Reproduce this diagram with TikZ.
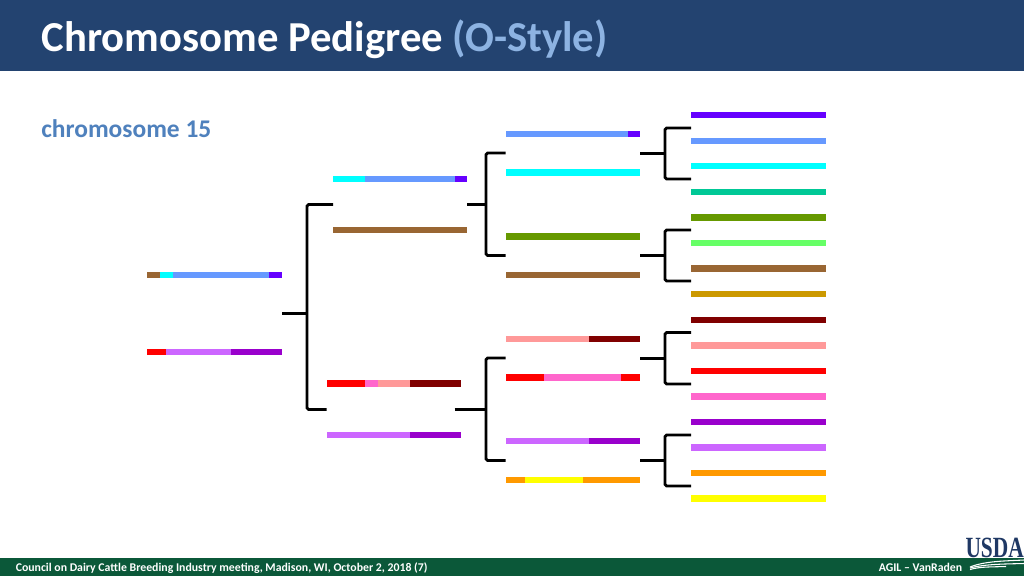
\documentclass[tikz,border=0pt]{standalone}
\usepackage{fontspec}
\setmainfont{Carlito}
\definecolor{hdr}{HTML}{234370}
\definecolor{ftr}{HTML}{0B5839}
\definecolor{ttl}{HTML}{8DB3E2}
\definecolor{sub}{HTML}{4F81BD}
\definecolor{usda}{HTML}{1F3864}
\definecolor{cPur}{HTML}{6600FF}
\definecolor{cBlu}{HTML}{6699FF}
\definecolor{cCya}{HTML}{00FFFF}
\definecolor{cTea}{HTML}{00C896}
\definecolor{cOli}{HTML}{669900}
\definecolor{cLim}{HTML}{66FF66}
\definecolor{cBro}{HTML}{996633}
\definecolor{cGol}{HTML}{CC9900}
\definecolor{cMar}{HTML}{800000}
\definecolor{cSal}{HTML}{FF9999}
\definecolor{cRed}{HTML}{FF0000}
\definecolor{cPin}{HTML}{FF66CC}
\definecolor{cVio}{HTML}{9900CC}
\definecolor{cLil}{HTML}{CC66FF}
\definecolor{cOra}{HTML}{FF9900}
\definecolor{cYel}{HTML}{FFFF00}
\tikzset{
  px/.style={x=0.75pt,y=-0.75pt},
  seg/.style={inner sep=0pt,outer sep=0pt,draw=none,minimum height=5.1pt},
  bracket/.style={black,line width=2.2pt,rounded corners=1.2pt,line cap=butt},
  stub/.style={black,line width=2.2pt,line cap=butt},
}
% name, x1, x2, y, colour
\newcommand{\barseg}[5]{%
  \pgfmathsetmacro{\segw}{(#3-#2)*0.75}%
  \node[seg,fill=#5,minimum width=\segw pt] (#1) at ({(#2+#3)/2},#4) {};}
% prefix, stub x, joint x, end x top, end x bottom, ytop, ymid, ybot
\newcommand{\brk}[8]{%
  \coordinate (#1s) at (#2,#7);
  \coordinate (#1j) at (#3,#7);
  \coordinate (#1t) at (#4,#6);
  \coordinate (#1b) at (#5,#8);
  \draw[bracket] (#1t) -| (#1j) |- (#1b);
  \draw[stub] (#1s) -- (#1j);}
\begin{document}
\begin{tikzpicture}[px]
\useasboundingbox (0,0) rectangle (1024,576);
\fill[white] (0,0) rectangle (1024,576);
\fill[hdr] (0,0) rectangle (1024,71);
\fill[ftr] (0,558) rectangle (1024,576);
\node[anchor=base west,inner sep=0pt,text=white,font=\bfseries\fontsize{32pt}{34pt}\selectfont] (title) at (41.5,51) {Chromosome Pedigree \textcolor{ttl}{(O-Style)}};
\node[anchor=base west,inner sep=0pt,text=sub,font=\bfseries\fontsize{19.1pt}{21pt}\selectfont] (chr) at (41,137.5) {chromosome 15};
\node[anchor=base west,inner sep=0pt,text=white,font=\bfseries\fontsize{8.85pt}{10pt}\selectfont] (foot) at (15.5,571.5) {Council on Dairy Cattle Breeding Industry meeting, Madison, WI, October 2, 2018 (7)};
\node[anchor=base east,inner sep=0pt,text=white,font=\bfseries\fontsize{8.85pt}{10pt}\selectfont] (agil) at (962.5,571.5) {AGIL -- VanRaden};
% USDA logo
\node[anchor=base east,inner sep=0pt,text=usda,xscale=0.73,font=\fontspec{Liberation Serif}\bfseries\fontsize{22pt}{24pt}\selectfont] (usdalogo) at (1024,557.5) {USDA};
\draw[white,line width=0.8pt] (970,567) .. controls (985,561) and (1005,561) .. (1024,560);
\draw[white,line width=0.8pt] (970,568) .. controls (985,564) and (1005,564) .. (1024,563.5);
\draw[white,line width=0.8pt] (970,569.5) .. controls (980,566.5) and (992,567) .. (1006,566.5);
% generation 4
\barseg{r1}{691}{826}{115}{cPur}
\barseg{r2}{691}{826}{141}{cBlu}
\barseg{r3}{691}{826}{166}{cCya}
\barseg{r4}{691}{826}{192}{cTea}
\barseg{r5}{691}{826}{217.5}{cOli}
\barseg{r6}{691}{826}{243}{cLim}
\barseg{r7}{691}{826}{268.5}{cBro}
\barseg{r8}{691}{826}{294}{cGol}
\barseg{r9}{691}{826}{320}{cMar}
\barseg{r10}{691}{826}{345.5}{cSal}
\barseg{r11}{691}{826}{371}{cRed}
\barseg{r12}{691}{826}{396.5}{cPin}
\barseg{r13}{691}{826}{422}{cVio}
\barseg{r14}{691}{826}{447.5}{cLil}
\barseg{r15}{691}{826}{473}{cOra}
\barseg{r16}{691}{826}{498.5}{cYel}
% generation 3
\barseg{c1a}{505.5}{627.5}{134}{cBlu}\barseg{c1b}{627.5}{640}{134}{cPur}
\barseg{c2a}{505.5}{640}{172.5}{cCya}
\barseg{c3a}{505.5}{640}{236.5}{cOli}
\barseg{c4a}{505.5}{640}{275}{cBro}
\barseg{c5a}{505.5}{589}{339}{cSal}\barseg{c5b}{589}{640}{339}{cMar}
\barseg{c6a}{505.5}{544}{377.5}{cRed}\barseg{c6b}{544}{621}{377.5}{cPin}\barseg{c6c}{621}{640}{377.5}{cRed}
\barseg{c7a}{505.5}{589}{441}{cLil}\barseg{c7b}{589}{640}{441}{cVio}
\barseg{c8a}{505.5}{525}{480}{cOra}\barseg{c8b}{525}{583}{480}{cYel}\barseg{c8c}{583}{640}{480}{cOra}
% generation 2
\barseg{b1a}{333}{365}{179}{cCya}\barseg{b1b}{365}{454.5}{179}{cBlu}\barseg{b1c}{454.5}{467}{179}{cPur}
\barseg{b2a}{333}{467}{230}{cBro}
\barseg{b3a}{326.5}{364.5}{383.5}{cRed}\barseg{b3b}{364.5}{377.5}{383.5}{cPin}\barseg{b3c}{377.5}{410}{383.5}{cSal}\barseg{b3d}{410}{461}{383.5}{cMar}
\barseg{b4a}{326.5}{410}{435}{cLil}\barseg{b4b}{410}{461}{435}{cVio}
% generation 1
\barseg{a1a}{147}{160}{275}{cBro}\barseg{a1b}{160}{173}{275}{cCya}\barseg{a1c}{173}{269}{275}{cBlu}\barseg{a1d}{269}{282}{275}{cPur}
\barseg{a2a}{147}{166}{352}{cRed}\barseg{a2b}{166}{231}{352}{cLil}\barseg{a2c}{231}{282}{352}{cVio}
% brackets
\brk{B0}{282}{307}{333}{326.5}{204.5}{313.5}{409.5}
\brk{B1}{467}{486}{505.5}{505.5}{153}{204.5}{255.5}
\brk{B2}{454.5}{486}{505.5}{505.5}{358}{409.5}{460.5}
\brk{B3}{640}{665}{691}{691}{128}{153.5}{179}
\brk{B4}{640}{665}{691}{691}{230}{255.5}{281}
\brk{B5}{640}{665}{691}{691}{332.5}{358.4}{384}
\brk{B6}{640}{665}{691}{691}{435}{460.5}{486}
\end{tikzpicture}
\end{document}
